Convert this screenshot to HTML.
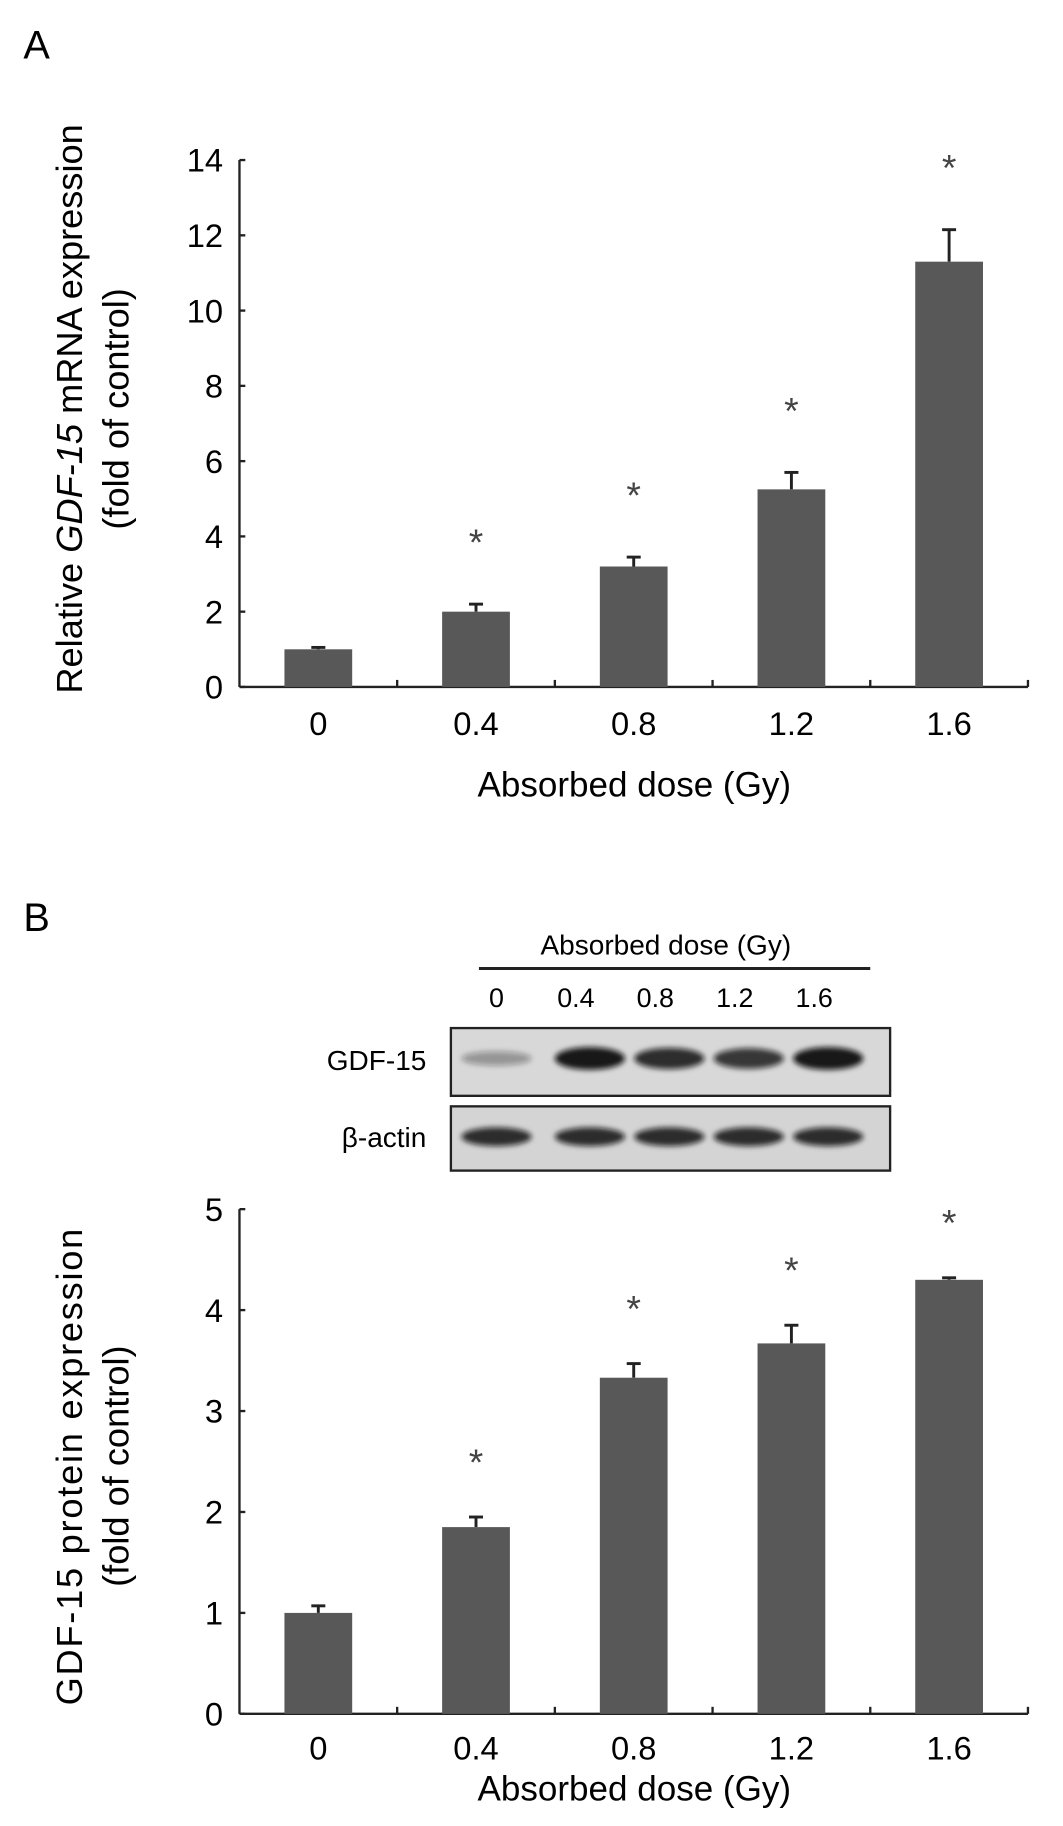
<!DOCTYPE html>
<html><head><meta charset="utf-8"><style>
html,body{margin:0;padding:0;background:#fff;}
svg{display:block;font-family:"Liberation Sans",Arial,sans-serif;}
</style></head><body>
<svg id="fig" width="1063" height="1826" viewBox="0 0 910 1563" preserveAspectRatio="none" xmlns="http://www.w3.org/2000/svg">
<defs><filter id="blur" x="-20%" y="-100%" width="140%" height="300%"><feGaussianBlur stdDeviation="2.2"/></filter></defs>
<text x="20" y="50" font-size="34">A</text>
<text x="20" y="797" font-size="34">B</text>
<g id="chartA"></g>
<g id="chartB"></g>
<g>
  <text x="570" y="817" font-size="24" text-anchor="middle">Absorbed dose (Gy)</text>
  <line x1="410" y1="829" x2="745" y2="829" stroke="#222" stroke-width="2.5"/>
  <g id="blotLabels"></g>
  <text x="365" y="916" font-size="24" text-anchor="end">GDF-15</text>
  <text x="365" y="982" font-size="24" text-anchor="end">β-actin</text>
  <rect x="386" y="880" width="376" height="58" fill="#d8d8d8" stroke="#222" stroke-width="2"/>
  <rect x="386" y="947" width="376" height="55" fill="#d4d4d4" stroke="#222" stroke-width="2"/>
  <g id="bands"></g>
</g>
</svg>
<script>
const NS="http://www.w3.org/2000/svg";
const categories=["0","0.4","0.8","1.2","1.6"];
const valuesA=[1.0,2.0,3.2,5.25,11.3];
const errorsA=[0.05,0.2,0.25,0.45,0.85];
const ticksA=[0,2,4,6,8,10,12,14];
const valuesB=[1.0,1.85,3.33,3.67,4.3];
const errorsB=[0.07,0.1,0.14,0.18,0.02];
const ticksB=[0,1,2,3,4,5];
const signifA=[false,true,true,true,true];
const signifB=[false,true,true,true,true];
const gdfIntensity=[0.35,0.95,0.85,0.8,0.95];
const actinIntensity=[0.85,0.85,0.85,0.85,0.85];

function mk(tag,attrs,parent,text){const e=document.createElementNS(NS,tag);for(const k in attrs)e.setAttribute(k,attrs[k]);if(text!==undefined)e.textContent=text;parent.appendChild(e);return e;}

function drawChart(g,vals,errs,ticks,sig,o){
  const x0=205,x1=880,yTop=o.yTop,yBot=o.yBot,max=ticks[ticks.length-1];
  const y=v=>yBot-(v/max)*(yBot-yTop);
  const band=(x1-x0)/categories.length;
  const xc=i=>x0+band*(i+0.5);
  const yAxis=mk('line',{x1:x0,y1:yTop,x2:x0,y2:yBot,stroke:'#222','stroke-width':2},g);
  
  
  const xAxis=mk('line',{x1:x0,y1:yBot,x2:x1,y2:yBot,stroke:'#222','stroke-width':2},g);
  
  
  ticks.forEach(t=>{
    mk('line',{x1:x0,y1:y(t),x2:x0+5,y2:y(t),stroke:'#222','stroke-width':2},g);
    const tl=mk('text',{x:x0-14,y:y(t)+10,'font-size':28,'text-anchor':'end'},g,String(t));
    
    
  });
  for(let i=1;i<=categories.length;i++){mk('line',{x1:x0+band*i,y1:yBot,x2:x0+band*i,y2:yBot-6,stroke:'#222','stroke-width':2},g);}
  const bw=58;
  vals.forEach((v,i)=>{
    const cx=xc(i);
    const e=mk('line',{x1:cx,y1:y(v),x2:cx,y2:y(v+errs[i]),stroke:'#222','stroke-width':2.5},g);
    
    
    mk('line',{x1:cx-6,y1:y(v+errs[i]),x2:cx+6,y2:y(v+errs[i]),stroke:'#222','stroke-width':2.5},g);
    const r=mk('rect',{x:cx-bw/2,y:y(v),width:bw,height:yBot-y(v),fill:'#585858'},g);
    
    
    if(sig[i]){
      const s=mk('text',{x:cx,y:y(v+errs[i])-o.starGap+6,'font-size':32,'text-anchor':'middle',fill:'#444'},g,'*');
      
      
    }
    const xl=mk('text',{x:cx,y:yBot+o.xlab,'font-size':28,'text-anchor':'middle'},g,categories[i]);
    
    
  });
  const xt=mk('text',{x:543,y:o.xTitleY,'font-size':30,'text-anchor':'middle'},g,'Absorbed dose (Gy)');
  
  
  const yt=mk('text',{transform:`translate(70,${o.yTitleC}) rotate(-90)`,'font-size':31,'text-anchor':'middle'},g);
  
  
  o.yTitle1(yt);
  const yt2=mk('text',{transform:`translate(110,${o.yTitleC}) rotate(-90)`,'font-size':31,'text-anchor':'middle'},g,'(fold of control)');
  
  
}
drawChart(document.getElementById('chartA'),valuesA,errorsA,ticksA,signifA,{yTop:137,yBot:588,starGap:48,xlab:41,xTitleY:682,yTitleC:350,
  yTitle1:t=>{mk('tspan',{},t,'Relative ');mk('tspan',{'font-style':'italic'},t,'GDF-15');mk('tspan',{},t,' mRNA expression');}});
drawChart(document.getElementById('chartB'),valuesB,errorsB,ticksB,signifB,{yTop:1035,yBot:1467,starGap:42,xlab:39,xTitleY:1541,yTitleC:1255,
  yTitle1:t=>{t.setAttribute('xml:space','preserve');t.setAttribute('letter-spacing','1.5');t.textContent='GDF-15  protein expression';}});

const bl=document.getElementById('blotLabels');
const laneX=[0,1,2,3,4].map(i=>425+i*68);
categories.forEach((c,i)=>{
  const t=mk('text',{x:laneX[i],y:862,'font-size':23,'text-anchor':'middle'},bl,c);
  
  
});
const bands=document.getElementById('bands');
gdfIntensity.forEach((v,i)=>{
  const b=mk('ellipse',{cx:laneX[i]+(i?12:0),cy:906,rx:30,ry:4+6*v,fill:'#111','fill-opacity':v,filter:'url(#blur)'},bands);
  
  
});
actinIntensity.forEach((v,i)=>{
  const b=mk('ellipse',{cx:laneX[i]+(i?12:0),cy:973,rx:30,ry:8,fill:'#111','fill-opacity':v,filter:'url(#blur)'},bands);
  
  
});
</script>
</body></html>
